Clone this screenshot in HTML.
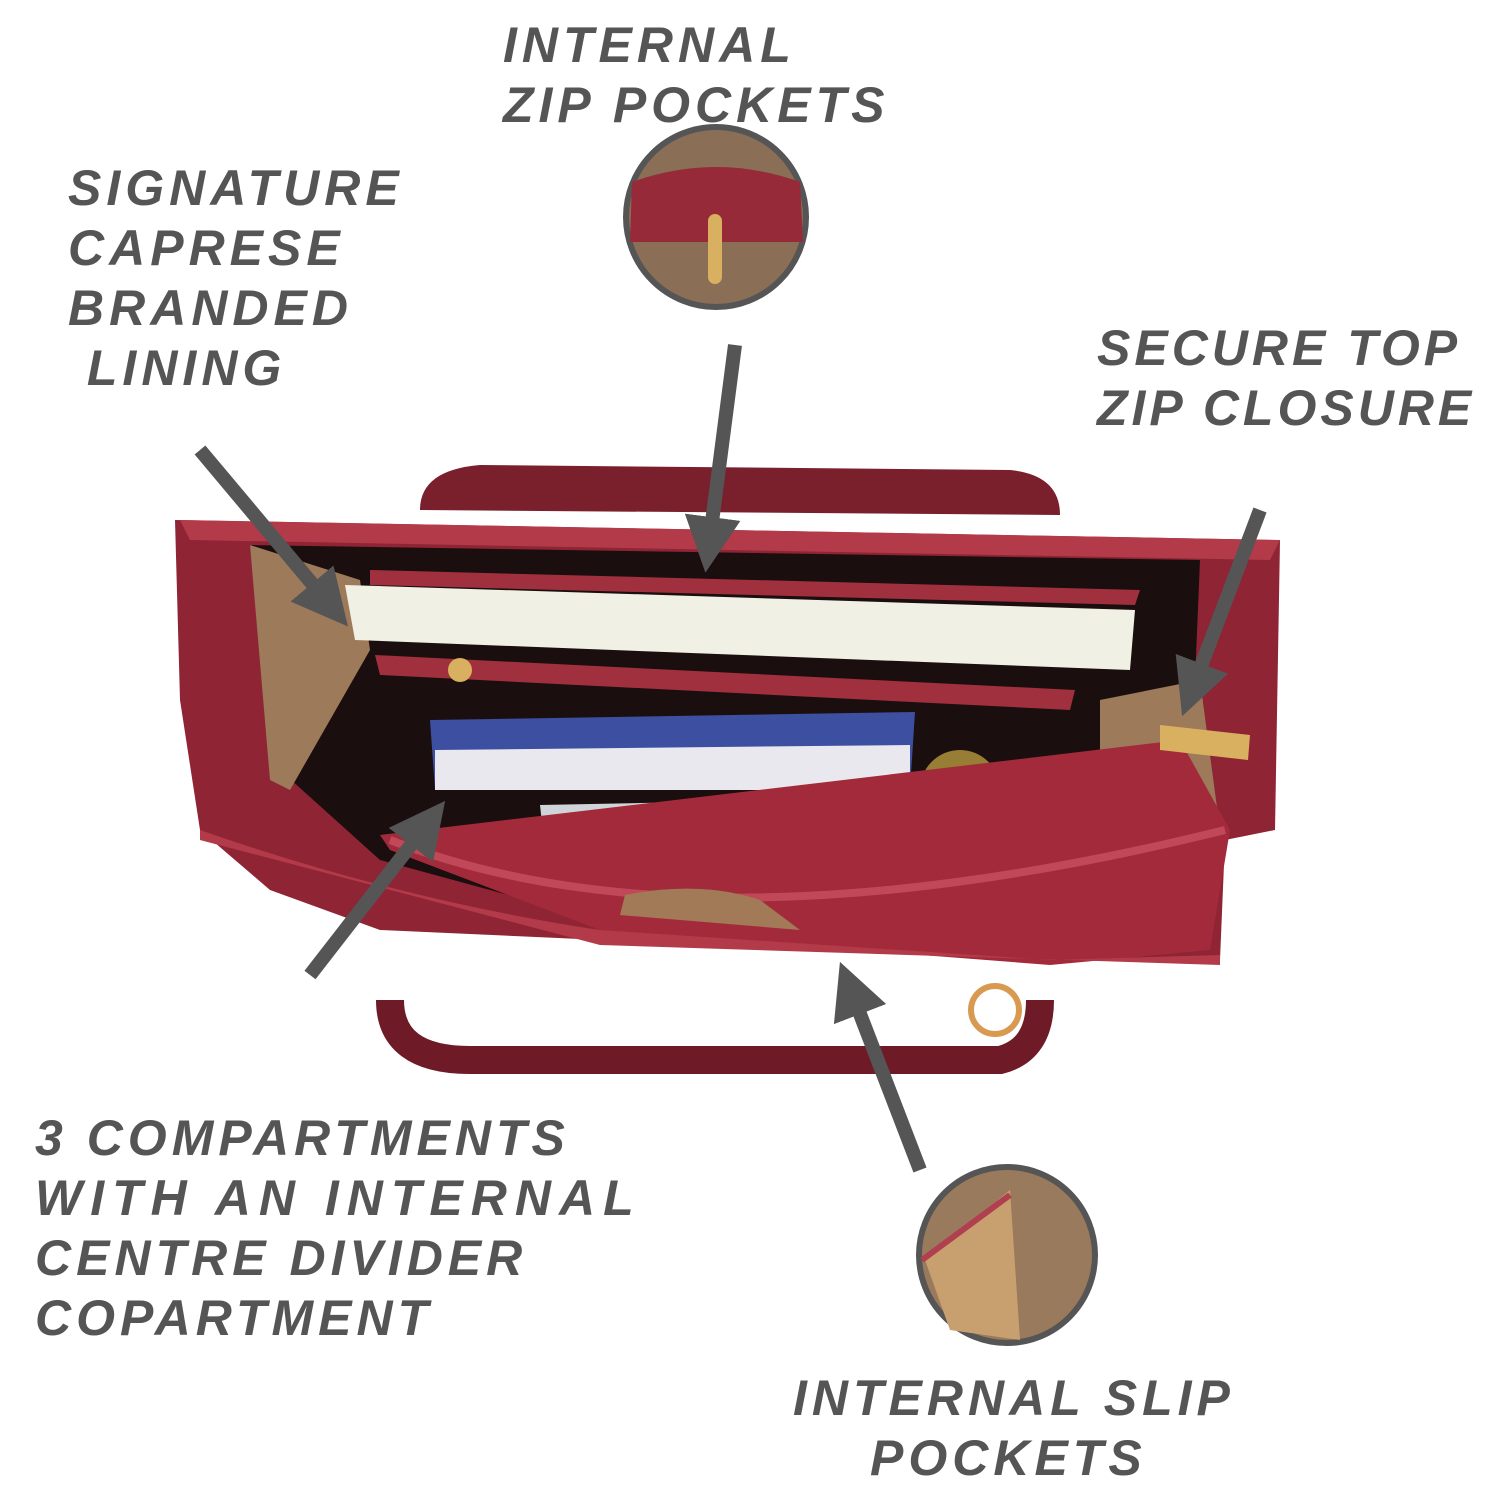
<!DOCTYPE html>
<html><head><meta charset="utf-8"><style>
html,body{margin:0;padding:0;background:#fff;}
body{width:1500px;height:1500px;position:relative;overflow:hidden;font-family:"Liberation Sans",sans-serif;}
.t{position:absolute;color:#555;font-weight:bold;font-style:italic;font-size:50px;letter-spacing:5px;line-height:60px;white-space:nowrap;}
svg{position:absolute;left:0;top:0;}
</style></head><body>
<svg width="1500" height="1500" viewBox="0 0 1500 1500">
<defs><marker id="a" markerWidth="4" markerHeight="4" refX="2" refY="2" orient="auto" markerUnits="strokeWidth"><path d="M0,0 L4,2 L0,4 z" fill="#555"/></marker></defs>
<path d="M420,510 Q420,470 480,465 L1010,470 Q1060,475 1060,515" fill="#7a1f2c"/>
<path d="M390,1000 Q390,1060 470,1060 L1000,1060 Q1040,1050 1040,1000" fill="none" stroke="#6e1a27" stroke-width="28"/>
<path d="M175,520 L1280,540 L1275,830 L1225,840 L1220,960 L1050,960 L380,930 L270,890 L200,830 L180,700 Z" fill="#8e2434"/>
<path d="M180,520 L1280,540 L1270,560 L190,540 Z" fill="#b33a48"/>
<path d="M250,545 L1200,560 L1190,800 L1080,900 L600,920 L380,860 L280,770 Z" fill="#1a0e0e"/>
<path d="M250,545 L360,580 L370,650 L290,790 L270,780 Z" fill="#9c7a5a"/>
<path d="M1100,700 L1200,680 L1220,830 L1100,880 Z" fill="#9c7a5a"/>
<path d="M345,585 L1135,610 L1130,670 L355,640 Z" fill="#f0f0e4"/>
<path d="M370,570 L1140,590 L1135,605 L370,585 Z" fill="#a0303d"/>
<path d="M375,655 L1075,690 L1070,710 L380,675 Z" fill="#a0303d"/>
<path d="M430,720 L915,712 L910,790 L435,790 Z" fill="#3c4fa0"/>
<path d="M435,750 L910,745 L910,790 L435,790 Z" fill="#e8e8ee"/>
<path d="M540,805 L795,800 L790,840 L545,850 Z" fill="#cfd4d8"/>
<path d="M640,840 L850,835 L850,870 L645,875 Z" fill="#bbb"/>
<circle cx="960" cy="790" r="40" fill="#b89a40" opacity=".8"/>
<path d="M380,835 L1180,740 L1230,830 L1210,950 L1050,965 L600,930 L390,850 Z" fill="#a32a3a"/>
<path d="M390,840 Q700,960 1225,830" fill="none" stroke="#c04858" stroke-width="8"/>
<path d="M200,830 Q400,900 600,930 L1050,960 L1220,955 L1220,965 L600,945 L200,840 Z" fill="#b33a48"/>
<path d="M625,895 Q700,880 760,900 L800,930 L620,915 Z" fill="#a27a58"/>
<path d="M1160,725 L1250,735 L1248,760 L1160,750 Z" fill="#d8b060"/>
<circle cx="460" cy="670" r="12" fill="#d8b060"/>
<circle cx="995" cy="1010" r="24" fill="none" stroke="#d89a50" stroke-width="6"/>
<g stroke="#555" stroke-width="14" fill="none" stroke-linecap="butt">
<line x1="735" y1="345" x2="709" y2="545" marker-end="url(#a)"/>
<line x1="200" y1="450" x2="330" y2="605" marker-end="url(#a)"/>
<line x1="1260" y1="510" x2="1192" y2="690" marker-end="url(#a)"/>
<line x1="310" y1="975" x2="428" y2="823" marker-end="url(#a)"/>
<line x1="920" y1="1170" x2="850" y2="988" marker-end="url(#a)"/>
</g>
<circle cx="716" cy="217" r="90" fill="#8a6e56" stroke="#555" stroke-width="6"/>
<path d="M632,182 Q716,152 800,182 L803,242 L630,242 Z" fill="#962a38"/>
<rect x="708" y="214" width="14" height="70" rx="7" fill="#d8b060"/>
<circle cx="1007" cy="1255" r="88" fill="#9a7a5c" stroke="#555" stroke-width="6"/>
<path d="M925,1260 L1010,1190 L1020,1340 L950,1330 Z" fill="#c8a070"/>
<path d="M922,1260 L1010,1195" stroke="#b04050" stroke-width="6"/>
</svg>
<div class="t" style="left:503px;top:15px;">INTERNAL<br>ZIP POCKETS</div>
<div class="t" style="left:68px;top:158px;">SIGNATURE<br>CAPRESE<br>BRANDED<br>&nbsp;LINING</div>
<div class="t" style="left:1097px;top:318px;letter-spacing:4px;">SECURE TOP<br>ZIP CLOSURE</div>
<div class="t" style="left:35px;top:1108px;">3 COMPARTMENTS<br><span style="letter-spacing:8px">WITH AN INTERNAL</span><br>CENTRE DIVIDER<br>COPARTMENT</div>
<div class="t" style="left:793px;top:1368px;">INTERNAL SLIP</div>
<div class="t" style="left:870px;top:1428px;">POCKETS</div>
</body></html>
